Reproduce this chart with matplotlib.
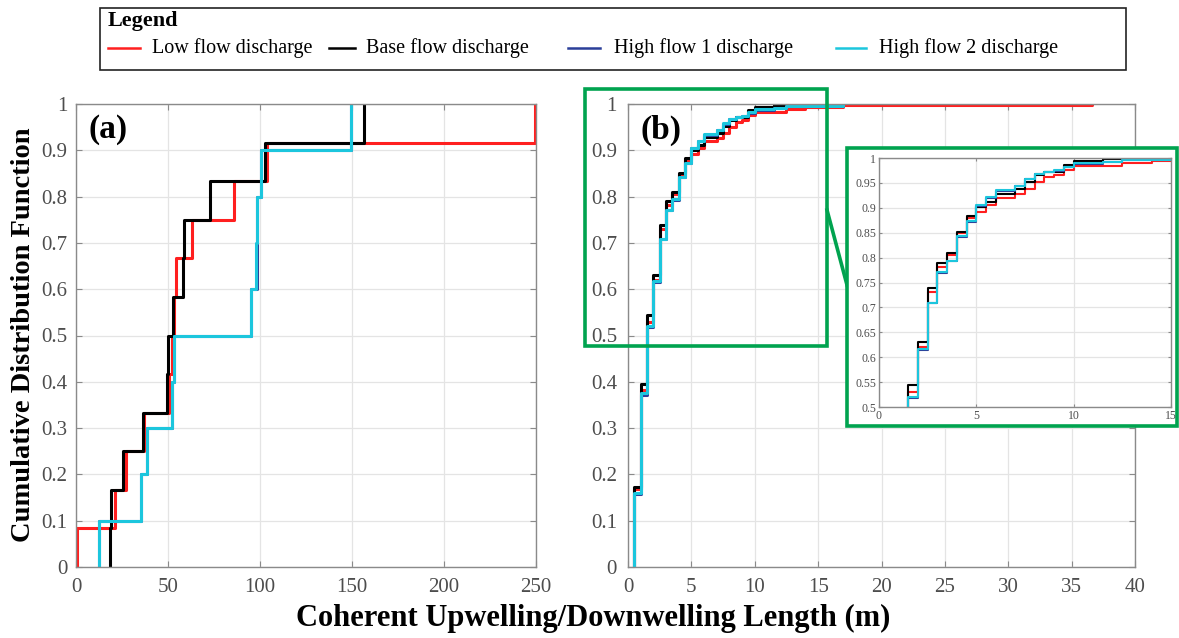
import numpy as np
import matplotlib
matplotlib.use('Agg')
import matplotlib.pyplot as plt
from matplotlib.patches import Rectangle
from matplotlib.lines import Line2D
from matplotlib.ticker import FuncFormatter

plt.rcParams['font.family'] = ['Liberation Serif', 'DejaVu Serif']

W, H = 1179, 638

SERIES = ['Low flow discharge', 'Base flow discharge', 'High flow 1 discharge', 'High flow 2 discharge']
COLORS = ['#ff1f1f', '#000000', '#2b3f99', '#1cc6dd']

# panel (a): individual lengths (m), one ECDF per discharge
a_low = [0.6, 21.4, 27.2, 37.0, 50.6, 52.0, 53.5, 54.5, 63.2, 85.6, 103.7, 249.4]
a_base = [18.3, 18.8, 25.3, 36.4, 49.6, 50.0, 52.5, 58.4, 58.8, 73.0, 102.5, 156.6]
a_high1 = [12.3, 35.4, 38.5, 52.1, 53.5, 95.0, 98.4, 98.6, 100.8, 149.4]
a_high2 = [12.3, 35.4, 38.5, 52.1, 53.5, 95.0, 97.9, 98.2, 100.8, 149.4]

# panel (b): step positions (m) and CDF level after each step
b_low_x = [0.5, 1, 1.5, 2, 2.5, 3, 3.5, 4, 4.5, 5, 5.5, 6, 7, 7.5, 8, 8.5, 9, 9.5, 10, 12.5, 14, 17, 36.6]
b_low_cdf = [0.168, 0.383, 0.530, 0.620, 0.730, 0.782, 0.806, 0.849, 0.879, 0.891, 0.906, 0.920,
             0.927, 0.937, 0.951, 0.962, 0.966, 0.976, 0.983, 0.989, 0.993, 0.997, 1.0]
b_base_x = [0.5, 1, 1.5, 2, 2.5, 3, 3.5, 4, 4.5, 5, 5.5, 6, 7, 7.5, 8, 8.5, 9.5, 10, 11.5, 12.5]
b_base_cdf = [0.172, 0.395, 0.544, 0.631, 0.738, 0.790, 0.810, 0.852, 0.883, 0.901, 0.911, 0.928,
              0.938, 0.952, 0.966, 0.971, 0.986, 0.993, 0.997, 1.0]
b_high1_x = [0.5, 1, 1.5, 2, 2.5, 3, 3.5, 4, 4.5, 5, 5.5, 6, 7, 7.5, 8, 8.5, 9, 9.5, 10, 11.5, 12.5, 17]
b_high1_cdf = [0.158, 0.372, 0.519, 0.615, 0.708, 0.770, 0.793, 0.842, 0.872, 0.904, 0.920, 0.934,
               0.943, 0.957, 0.967, 0.971, 0.974, 0.981, 0.988, 0.991, 0.995, 1.0]
b_high2_x = [0.5, 1, 1.5, 2, 2.5, 3, 3.5, 4, 4.5, 5, 5.5, 6, 7, 7.5, 8, 8.5, 9, 9.5, 10, 11.5, 12.5, 17]
b_high2_cdf = [0.160, 0.375, 0.521, 0.617, 0.709, 0.771, 0.794, 0.843, 0.873, 0.905, 0.921, 0.935,
               0.944, 0.958, 0.968, 0.972, 0.975, 0.982, 0.989, 0.992, 0.996, 1.0]


def ecdf_xy(vals):
    s = np.sort(vals)
    y = np.arange(1, len(s) + 1) / len(s)
    return np.r_[s[0], s], np.r_[0, y]


def stairs_xy(x, cdf):
    return np.r_[x[0], x], np.r_[0, cdf]


def fx(px):
    return px / W


def fy(py):
    return 1 - py / H


def style(ax, fs, pad):
    ax.grid(True, color='#e4e4e4', lw=0.9)
    ax.set_axisbelow(True)
    for s in ax.spines.values():
        s.set_color('#8a8a8a')
        s.set_linewidth(1.0)
    ax.tick_params(direction='in', length=4, color='#8a8a8a', labelcolor='#4d4d4d',
                   labelsize=fs, top=True, right=True, pad=pad)
    fmt = FuncFormatter(lambda v, p: f'{round(v, 3):g}')
    ax.xaxis.set_major_formatter(fmt)
    ax.yaxis.set_major_formatter(fmt)


fig = plt.figure(figsize=(W / 100, H / 100), dpi=100)

# ---- panel (a)
ax_a = fig.add_axes([fx(76), fy(567), fx(536 - 76), (567 - 104) / H])
for vals, c in zip([a_low, a_base, a_high1, a_high2], COLORS):
    x, y = ecdf_xy(vals)
    ax_a.step(x, y, where='post', color=c, lw=2.2)
ax_a.set_xlim(0, 250)
ax_a.set_ylim(0, 1)
ax_a.set_xticks(np.arange(0, 251, 50))
ax_a.set_yticks(np.arange(0, 1.01, 0.1))
style(ax_a, 15, 6)
ax_a.tick_params(axis='x', pad=8)
ax_a.text(0.028, 0.944, '(a)', transform=ax_a.transAxes, fontsize=24,
          fontweight='bold', ha='left', va='center')

# ---- panel (b)
b_data = [(b_low_x, b_low_cdf), (b_base_x, b_base_cdf),
          (b_high1_x, b_high1_cdf), (b_high2_x, b_high2_cdf)]
ax_b = fig.add_axes([fx(628), fy(567), fx(1135 - 628), (567 - 104) / H])
for (bx, bc), c in zip(b_data, COLORS):
    x, y = stairs_xy(bx, bc)
    ax_b.step(x, y, where='post', color=c, lw=2.2)
ax_b.set_xlim(0, 40)
ax_b.set_ylim(0, 1)
ax_b.set_xticks(np.arange(0, 41, 5))
ax_b.set_yticks(np.arange(0, 1.01, 0.1))
style(ax_b, 15, 8)
ax_b.text(0.025, 0.944, '(b)', transform=ax_b.transAxes, fontsize=24,
          fontweight='bold', ha='left', va='center')

# zoom box, connector and inset frame
green = '#00a34f'
fig.add_artist(Rectangle((fx(585), fy(346)), fx(827 - 585), (346 - 89) / H,
                         transform=fig.transFigure, fill=False, ec=green, lw=2.6, zorder=2))
fig.add_artist(Line2D([fx(827), fx(847)], [fy(210), fy(285)],
                      transform=fig.transFigure, color=green, lw=2.6, zorder=2))
fig.add_artist(Rectangle((fx(847), fy(426)), fx(1177 - 847), (426 - 148) / H,
                         transform=fig.transFigure, fc='white', ec=green, lw=2.6, zorder=2))

ax_in = fig.add_axes([fx(879), fy(407), fx(1171 - 879), (407 - 158) / H], zorder=3)
for (bx, bc), c in zip(b_data, COLORS):
    x, y = stairs_xy(bx, bc)
    ax_in.step(x, y, where='post', color=c, lw=1.5)
ax_in.set_xlim(0, 15)
ax_in.set_ylim(0.5, 1)
ax_in.set_xticks([0, 5, 10, 15])
ax_in.set_yticks(np.arange(0.5, 1.001, 0.05))
style(ax_in, 8.5, 2)
ax_in.tick_params(length=2)

# ---- legend box drawn by hand to keep the original spacing
fig.add_artist(Rectangle((fx(100), fy(70)), fx(1126 - 100), (70 - 8) / H,
                         transform=fig.transFigure, fc='white', ec='#222222', lw=1.2))
fig.text(fx(108), fy(21), 'Legend', fontsize=16, fontweight='bold', ha='left', va='center')
leg_lines = [(108, 140), (329, 355), (568, 600), (836, 866)]
leg_text = [152, 366, 614, 879]
for (x0, x1), tx, lab, c in zip(leg_lines, leg_text, SERIES, COLORS):
    fig.add_artist(Line2D([fx(x0), fx(x1)], [fy(48), fy(48)], transform=fig.transFigure,
                          color=c, lw=1.8))
    fig.text(fx(tx), fy(48), lab, fontsize=14.5, ha='left', va='center')

# axis titles
fig.text(fx(24), fy(335), 'Cumulative Distribution Function', rotation=90, fontsize=20.5,
         fontweight='bold', ha='center', va='center')
fig.text(fx(593), fy(618), 'Coherent Upwelling/Downwelling Length (m)', fontsize=22,
         fontweight='bold', ha='center', va='center')

fig.savefig('out.png', dpi=100)
